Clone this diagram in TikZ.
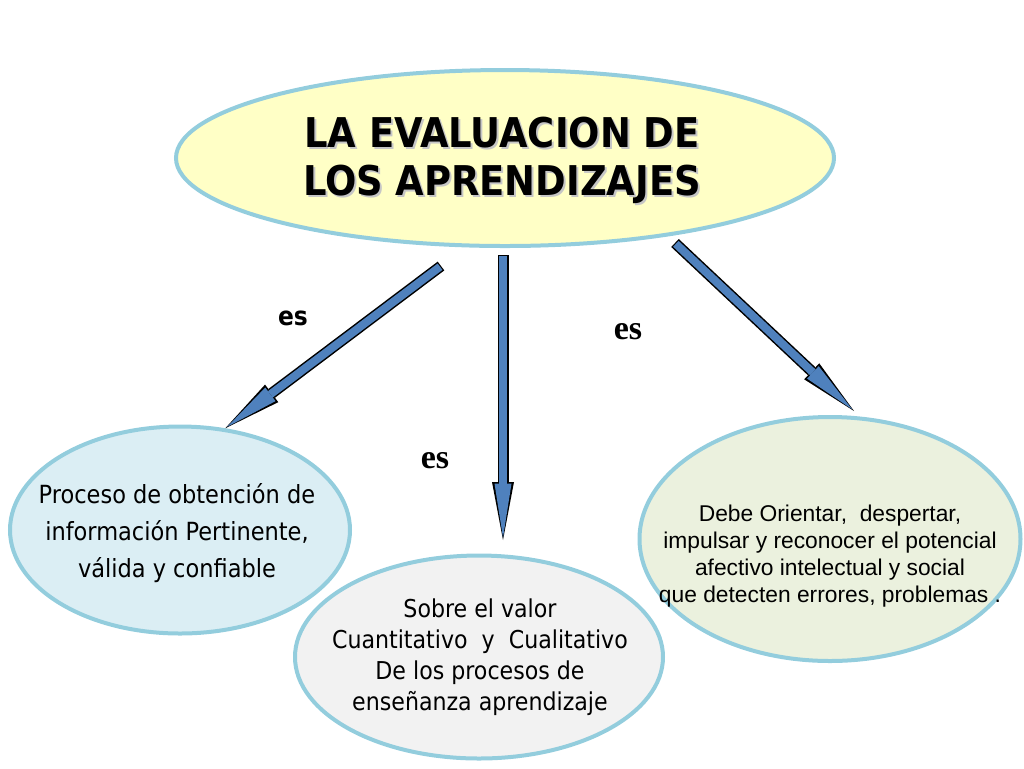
\documentclass[tikz,border=0pt]{standalone}
\usepackage{fontspec}
\setmainfont{Liberation Serif}
\newfontfamily\tahoma{DejaVu Sans Condensed}
\newfontfamily\arial{Liberation Sans}
\usetikzlibrary{arrows.meta}
\usetikzlibrary{shapes.geometric}

\definecolor{borde}{HTML}{93CDDD}
\definecolor{amarillo}{HTML}{FFFFC6}
\definecolor{celeste}{HTML}{DBEEF4}
\definecolor{gris}{HTML}{F2F2F2}
\definecolor{verdoso}{HTML}{EBF1DE}
\definecolor{azul}{HTML}{4F81BD}

\tikzset{
  elipse/.style={ellipse, draw=borde, line width=2pt, inner sep=0pt},
  flechafondo/.style={draw=black, line width=5.5pt,
    -{Triangle[length=29pt, width=11pt, line width=0pt]}},
  flechacuerpo/.style={draw=azul, line width=4pt, shorten <=0.6pt, shorten >=1.2pt,
    -{Triangle[length=27pt, width=8.5pt, line width=0pt]}}
}

\begin{document}
\begin{tikzpicture}[x=0.5pt, y=-0.5pt]
  \useasboundingbox (0,0) rectangle (1024,768);

  % elipses
  \node[elipse, fill=amarillo, minimum width=329pt, minimum height=88pt] (eval) at (505,158) {};
  \node[elipse, fill=celeste, minimum width=170pt, minimum height=103.5pt] (izq) at (180,530) {};
  \node[elipse, fill=gris, minimum width=184pt, minimum height=101.5pt] (centro) at (479,657) {};
  \node[elipse, fill=verdoso, minimum width=190.5pt, minimum height=122pt] (der) at (830,539) {};

  % textos
  \node[font=\tahoma\bfseries\fontsize{20.5}{24}\selectfont, text=gray!45, align=center] (sombra) at (504,162) {LA EVALUACION DE\\LOS APRENDIZAJES};
  \node[font=\tahoma\bfseries\fontsize{20.5}{24}\selectfont, align=center] (titulo) at (502,160) {LA EVALUACION DE\\LOS APRENDIZAJES};

  \node[font=\tahoma\fontsize{12.5}{18.5}\selectfont, align=center] (txtizq) at (177,533) {Proceso de obtención de\\información Pertinente,\\válida y confiable};
  \node[font=\tahoma\fontsize{12.3}{15.5}\selectfont, align=center] (txtcentro) at (480,657) {Sobre el valor\\Cuantitativo~ y~ Cualitativo\\De los procesos de\\enseñanza aprendizaje};
  \node[font=\arial\fontsize{11.4}{13.5}\selectfont, align=center] (txtder) at (830,556) {Debe Orientar,~ despertar,\\impulsar y reconocer el potencial\\afectivo intelectual y social\\que detecten errores, problemas .};

  \node[font=\tahoma\bfseries\fontsize{13}{13}\selectfont] (es1) at (293,318) {es};
  \node[font=\bfseries\fontsize{17}{17}\selectfont] (es2) at (628,332) {es};
  \node[font=\bfseries\fontsize{17}{17}\selectfont] (es3) at (435,461) {es};

  % flechas
  \coordinate (i1) at (441,266);
  \coordinate (m1) at (503,255);
  \coordinate (m2) at (503,540);
  \coordinate (d1) at (675,243);
  \coordinate (d2) at (854,411);

  \foreach \a/\b in {i1/izq.66, m1/m2, d1/d2} {
    \draw[flechafondo] (\a) -- (\b);
    \draw[flechacuerpo] (\a) -- (\b);
  }
\end{tikzpicture}
\end{document}
